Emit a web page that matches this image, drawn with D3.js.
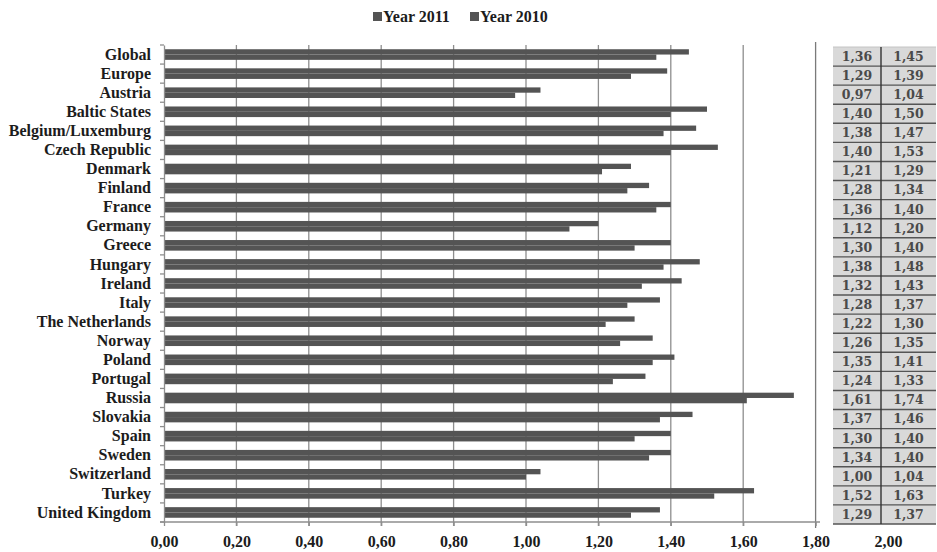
<!DOCTYPE html>
<html>
<head>
<meta charset="utf-8">
<script src="https://cdn.jsdelivr.net/npm/d3@7"></script>
<style>
  html, body { margin: 0; padding: 0; background: #fff; }
  svg { display: block; }
</style>
</head>
<body>
<svg id="chart" width="937" height="552"></svg>
<script>
const categories = ["Global","Europe","Austria","Baltic States","Belgium/Luxemburg","Czech Republic","Denmark","Finland","France","Germany","Greece","Hungary","Ireland","Italy","The Netherlands","Norway","Poland","Portugal","Russia","Slovakia","Spain","Sweden","Switzerland","Turkey","United Kingdom"];
const values2011 = [1.45,1.39,1.04,1.50,1.47,1.53,1.29,1.34,1.40,1.20,1.40,1.48,1.43,1.37,1.30,1.35,1.41,1.33,1.74,1.46,1.40,1.40,1.04,1.63,1.37];
const values2010 = [1.36,1.29,0.97,1.40,1.38,1.40,1.21,1.28,1.36,1.12,1.30,1.38,1.32,1.28,1.22,1.26,1.35,1.24,1.61,1.37,1.30,1.34,1.00,1.52,1.29];
const seriesNames = ["Year 2011","Year 2010"];
const xTickValues = [0,0.2,0.4,0.6,0.8,1.0,1.2,1.4,1.6,1.8,2.0];

const svg = d3.select("#chart");
const serif = "'Liberation Serif','Times New Roman',serif";
const barColor = "#545454";
const gridColor = "#8e8e8e";

const locale = d3.formatLocale({decimal: ",", thousands: ".", grouping: [3], currency: ["", ""]});
const fmt = locale.format(".2f");

const x = d3.scaleLinear().domain([0, 2]).range([164, 888]);
const y = d3.scaleBand().domain(categories).range([45, 522]).padding(0);
const inner = d3.scaleBand().domain(seriesNames).range([0, y.bandwidth()]).paddingInner(0).paddingOuter(0.8);

const seriesVals = {"Year 2011": values2011, "Year 2010": values2010};

// gridlines
svg.append("g").selectAll("line")
  .data(xTickValues.filter(v => v > 0 && v < 1.9))
  .join("line")
  .attr("x1", d => x(d)).attr("x2", d => x(d))
  .attr("y1", d => d > 1.7 ? 42 : 45)
  .attr("y2", d => d > 1.7 ? 528 : 526)
  .attr("stroke", d => d > 1.7 ? "#7a7a7a" : gridColor)
  .attr("stroke-width", 1.3);

// bars
const gBars = svg.append("g");
seriesNames.forEach(s => {
  gBars.append("g").selectAll("rect")
    .data(categories.map((c, i) => ({c, v: seriesVals[s][i]})))
    .join("rect")
    .attr("x", x(0))
    .attr("y", d => y(d.c) + inner(s))
    .attr("width", d => x(d.v) - x(0))
    .attr("height", inner.bandwidth())
    .attr("fill", barColor);
});

// x axis line
svg.append("line").attr("x1", 160).attr("x2", 820).attr("y1", 522).attr("y2", 522)
  .attr("stroke", gridColor).attr("stroke-width", 1.3);

// x axis ticks and labels
const xAxis = d3.axisBottom(x).tickValues(xTickValues).tickFormat(fmt).tickSize(4).tickPadding(10);
const gx = svg.append("g").attr("transform", "translate(0,522)").call(xAxis);
gx.select(".domain").remove();
gx.selectAll(".tick line").attr("stroke", gridColor).attr("stroke-width", 1.3)
  .attr("display", d => d > 1.9 ? "none" : null);
gx.selectAll(".tick text").attr("font-family", serif).attr("font-weight", "bold")
  .attr("font-size", 16).attr("fill", "#1c1c1c");

// y axis
const yAxis = d3.axisLeft(y).tickSize(0).tickPadding(13);
const gy = svg.append("g").attr("transform", "translate(164,0)").call(yAxis);
gy.select(".domain").attr("stroke", gridColor).attr("stroke-width", 1.3);
gy.selectAll(".tick text").attr("font-family", serif).attr("font-weight", "bold")
  .attr("font-size", 16).attr("fill", "#1c1c1c");
// band boundary ticks
svg.append("g").selectAll("line")
  .data(categories.map(c => y(c)).concat([y(categories[categories.length - 1]) + y.step()]))
  .join("line")
  .attr("x1", 160).attr("x2", 164)
  .attr("y1", d => d).attr("y2", d => d)
  .attr("stroke", gridColor).attr("stroke-width", 1.3);

// data table
const tX0 = 833, tX1 = 881, tX2 = 936;
const gT = svg.append("g");
gT.append("rect").attr("x", tX0).attr("y", y.range()[0] + 2).attr("width", tX2 - tX0)
  .attr("height", y.range()[1] - y.range()[0]).attr("fill", "#d9d9d9");
gT.append("line").attr("x1", tX0).attr("x2", tX2).attr("y1", y.range()[0] + 2).attr("y2", y.range()[0] + 2)
  .attr("stroke", "#c4c4c4").attr("stroke-width", 1);
gT.selectAll("line.row")
  .data(categories)
  .join("line").attr("class", "row")
  .attr("x1", tX0).attr("x2", tX2)
  .attr("y1", d => y(d) + y.step() + 2).attr("y2", d => y(d) + y.step() + 2)
  .attr("stroke", "#555").attr("stroke-width", 1.4);
gT.append("line").attr("x1", tX1).attr("x2", tX1).attr("y1", y.range()[0] + 2).attr("y2", y.range()[1] + 2)
  .attr("stroke", "#333").attr("stroke-width", 1.4);
const tableFont = "'DejaVu Serif',serif";
[[values2010, (tX0 + tX1) / 2], [values2011, (tX1 + tX2) / 2]].forEach(([vals, cx]) => {
  gT.append("g").selectAll("text")
    .data(categories.map((c, i) => ({c, v: vals[i]})))
    .join("text")
    .attr("x", cx)
    .attr("y", d => y(d.c) + y.step() / 2 + 2)
    .attr("dy", "0.35em")
    .attr("text-anchor", "middle")
    .attr("font-family", tableFont).attr("font-weight", "bold").attr("font-size", 12.5)
    .attr("fill", "#4a4a4a")
    .text(d => fmt(d.v));
});

// legend
const legend = svg.append("g");
const legendX = [373, 470];
seriesNames.forEach((s, i) => {
  const g = legend.append("g").attr("transform", `translate(${legendX[i]},0)`);
  g.append("rect").attr("x", 0).attr("y", 12).attr("width", 9).attr("height", 9).attr("fill", barColor);
  g.append("text").attr("x", 10).attr("y", 22)
    .attr("font-family", serif).attr("font-weight", "bold").attr("font-size", 16)
    .attr("fill", "#1c1c1c").text(s);
});
</script>
</body>
</html>
